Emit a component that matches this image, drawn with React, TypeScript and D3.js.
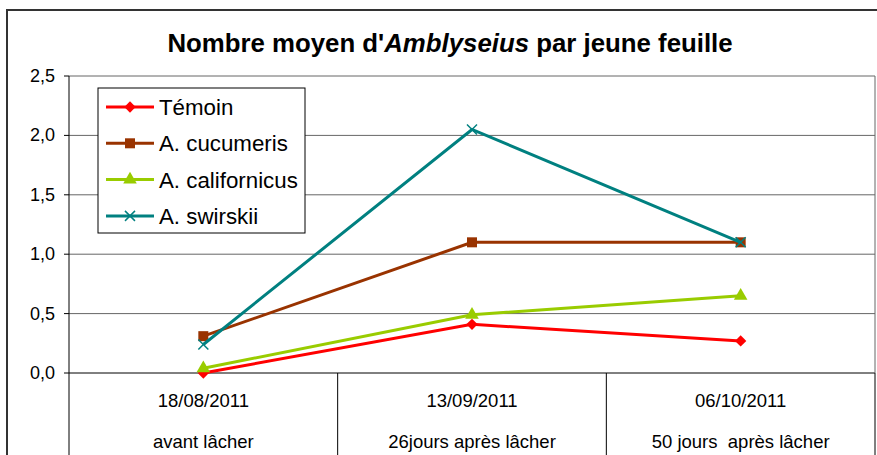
import React from 'react';
import * as d3 from 'd3';

// data
const dates = ['18/08/2011', '13/09/2011', '06/10/2011'];
const stages = ['avant lâcher', '26jours après lâcher', '50 jours  après lâcher'];
const seriesNames = ['Témoin', 'A. cucumeris', 'A. californicus', 'A. swirskii'];
const temoin = [0.0, 0.41, 0.27];
const cucumeris = [0.31, 1.1, 1.1];
const californicus = [0.04, 0.49, 0.65];
const swirskii = [0.24, 2.05, 1.1];
const yTicks = [0, 0.5, 1, 1.5, 2, 2.5];

const colors = ['#ff0000', '#993300', '#99cc00', '#008080'];
const markers = ['diamond', 'square', 'triangle', 'cross'];
const allSeries = [temoin, cucumeris, californicus, swirskii];

const W = 877, H = 455;
const left = 69, right = 875, top = 76, bottom = 373;

function Marker({ kind, x, y, color }: { kind: string; x: number; y: number; color: string }) {
  if (kind === 'diamond') {
    return <rect x={-4} y={-4} width={8} height={8} fill={color} transform={`translate(${x},${y}) rotate(45)`} />;
  }
  if (kind === 'square') {
    return <rect x={x - 5} y={y - 5} width={10} height={10} fill={color} />;
  }
  if (kind === 'triangle') {
    const s = d3.symbol(d3.symbolTriangle, 80)();
    return <path d={s as string} transform={`translate(${x},${y})`} fill={color} />;
  }
  return (
    <g stroke={color} strokeWidth={1.5}>
      <line x1={x - 5} y1={y - 5} x2={x + 5} y2={y + 5} />
      <line x1={x - 5} y1={y + 5} x2={x + 5} y2={y - 5} />
    </g>
  );
}

export default function App() {
  const x = d3.scaleBand<number>().domain([0, 1, 2]).range([left, right]);
  const y = d3.scaleLinear().domain([0, 2.5]).range([bottom, top]);
  const cx = (i: number) => (x(i) as number) + x.bandwidth() / 2;
  const line = d3.line<number>().x((d, i) => cx(i)).y(d => y(d));
  const font = 'Liberation Sans, Arial, sans-serif';

  return (
    <svg width={W} height={H} style={{ position: 'absolute', left: 0, top: 0 }} fontFamily={font}>
      <rect x={0} y={0} width={W} height={H} fill="#fff" />
      {/* outer frame */}
      <path d={`M7,${H} V10 H${W + 2}`} fill="none" stroke="#333" strokeWidth={2} />

      <text x={450} y={52} textAnchor="middle" fontSize={25.8} fontWeight="bold">
        Nombre moyen d'<tspan fontStyle="italic">Amblyseius</tspan> par jeune feuille
      </text>

      {/* grid */}
      {yTicks.map(t => (
        <g key={t}>
          <line x1={left} x2={right} y1={y(t)} y2={y(t)} stroke={t === 0 ? '#000' : '#666'} strokeWidth={1} />
          <line x1={left - 5} x2={left} y1={y(t)} y2={y(t)} stroke="#000" />
          <text x={55} y={y(t) + 6} textAnchor="end" fontSize={18}>
            {d3.format('.1f')(t).replace('.', ',')}
          </text>
        </g>
      ))}
      <line x1={right} x2={right} y1={top} y2={bottom} stroke="#666" />
      <line x1={left} x2={left} y1={top} y2={H} stroke="#000" />

      {/* category table */}
      {[1, 2].map(i => (
        <line key={i} x1={x(i) as number} x2={x(i) as number} y1={bottom} y2={H} stroke="#000" />
      ))}
      <line x1={right} x2={right} y1={bottom} y2={H} stroke="#000" />
      {dates.map((d, i) => (
        <g key={d}>
          <text x={cx(i)} y={407} textAnchor="middle" fontSize={18.5}>{d}</text>
          <text x={cx(i)} y={448} textAnchor="middle" fontSize={18.5} style={{ whiteSpace: 'pre' }}>{stages[i]}</text>
        </g>
      ))}

      {/* series */}
      {allSeries.map((s, k) => (
        <g key={k}>
          <path d={line(s) as string} fill="none" stroke={colors[k]} strokeWidth={3} />
          {s.map((v, i) => (
            <Marker key={i} kind={markers[k]} x={cx(i)} y={y(v)} color={colors[k]} />
          ))}
        </g>
      ))}

      {/* legend */}
      <rect x={98} y={88} width={207} height={145} fill="#fff" stroke="#000" />
      {seriesNames.map((n, k) => {
        const ly = 107 + k * 36.3;
        return (
          <g key={n}>
            <line x1={106} x2={154} y1={ly} y2={ly} stroke={colors[k]} strokeWidth={3} />
            <Marker kind={markers[k]} x={130} y={ly} color={colors[k]} />
            <text x={159} y={ly + 8} fontSize={22.3}>{n}</text>
          </g>
        );
      })}
    </svg>
  );
}
